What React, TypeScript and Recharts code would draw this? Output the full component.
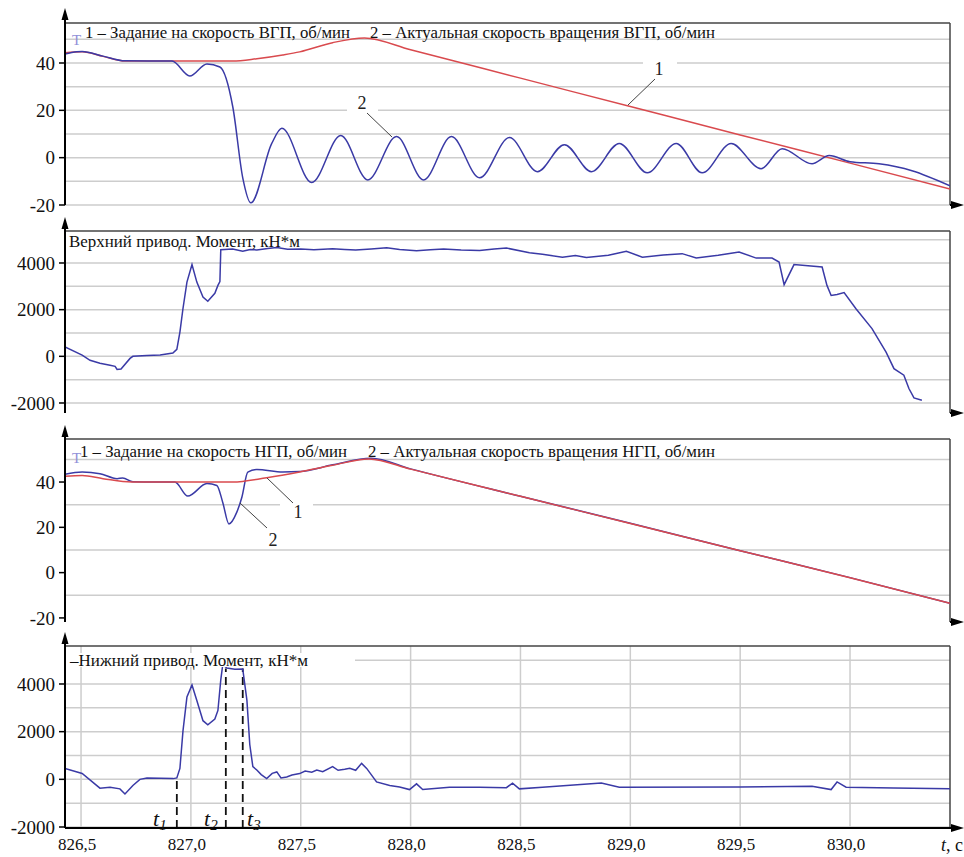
import React from "react";
import { LineChart, Line, XAxis, YAxis, CartesianGrid, ReferenceLine } from "recharts";

const RED = "#d94a4e";
const BLUE = "#3a3aa6";
const GRID = "#cdcdcd";
const FONT = '"Liberation Serif", "Times New Roman", "DejaVu Serif", serif';

const T_MIN = 826.427;
const T_MAX = 830.455;
const timeTicks = [826.5, 827, 827.5, 828, 828.5, 829, 829.5, 830];

const speedTicks = [-20, 0, 20, 40];
const speedGrid = [-20, -10, 0, 10, 20, 30, 40, 50];
const torqueTicks = [-2000, 0, 2000, 4000];
const torqueGrid = [-2000, -1000, 0, 1000, 2000, 3000, 4000, 5000];

// ВГП: задание (1) и актуальная скорость (2), об/мин
const upperSetT = [826.427, 826.505, 826.6, 826.7, 827.19, 827.3, 827.418, 827.495, 827.645, 827.79, 828.0, 828.5, 829.0, 829.5, 830.0, 830.455];
const upperSetV = [44.3, 44.7, 42.8, 40.8, 40.8, 41.8, 43.4, 44.7, 48.6, 50.6, 45.6, 33.6, 21.6, 9.6, -2.3, -13.2];
const upperActT = [
  826.427, 826.48, 826.505, 826.6, 826.7, 826.914, 826.995, 827.073, 827.132, 827.191, 827.236, 827.273,
  827.368, 827.414, 827.55, 827.682, 827.805, 827.936, 828.059, 828.186, 828.314, 828.45, 828.577, 828.7,
  828.823, 828.95, 829.077, 829.209, 829.327, 829.459, 829.595, 829.691, 829.827, 829.905, 830.0, 830.132,
  830.282, 830.455,
];
const upperActV = [
  43.8, 44.8, 44.9, 42.9, 40.9, 40.8, 34.5, 39.6, 38.3, 21.3, -8.5, -19.1,
  6, 12.4, -10.5, 9.4, -9.4, 8.9, -9.4, 8.9, -8.5, 8.5, -5.9, 5.5,
  -5.9, 6, -6.4, 6, -6.4, 6, -4.7, 3.8, -2.6, 0.9, -1.7, -2.6,
  -5.5, -11.9,
];

// Верхний привод, момент кН*м
const upperTorqueT = [
  826.427, 826.505, 826.541, 826.586, 826.632, 826.655, 826.664, 826.682, 826.723, 826.736, 826.8, 826.86,
  826.918, 826.936, 826.95, 826.964, 826.982, 827.005, 827.027, 827.055, 827.077, 827.109, 827.123, 827.132,
  827.136, 827.19, 827.236, 827.27, 827.3, 827.35, 827.391, 827.44, 827.5, 827.56, 827.645, 827.7,
  827.75, 827.82, 827.891, 827.95, 828.027, 828.09, 828.15, 828.23, 828.314, 828.38, 828.436, 828.541,
  828.6, 828.691, 828.75, 828.8, 828.9, 828.982, 829.055, 829.15, 829.236, 829.3, 829.4, 829.495,
  829.573, 829.645, 829.677, 829.7, 829.745, 829.873, 829.895, 829.914, 829.941, 829.973, 830.027, 830.1,
  830.164, 830.2, 830.245, 830.268, 830.291, 830.327,
];
const upperTorqueV = [
  400, 50, -170, -300, -380, -430, -560, -540, -90, 0, 30, 60,
  140, 300, 1040, 2050, 3180, 3930, 3180, 2540, 2360, 2700, 3040, 3200,
  4570, 4600, 4500, 4580, 4560, 4620, 4660, 4590, 4600, 4570, 4610, 4580,
  4560, 4600, 4650, 4580, 4520, 4570, 4600, 4560, 4540, 4600, 4640, 4440,
  4370, 4250, 4320, 4240, 4330, 4500, 4250, 4340, 4400, 4210, 4330, 4470,
  4210, 4210, 4040, 3070, 3930, 3830, 3040, 2610, 2650, 2730, 2040, 1190,
  180, -530, -810, -1380, -1780, -1880,
];

// НГП: задание (1) и актуальная скорость (2), об/мин
const lowerSetT = [826.427, 826.505, 826.6, 826.73, 827.19, 827.345, 827.495, 827.645, 827.81, 828.0, 828.5, 829.0, 829.5, 830.0, 830.455];
const lowerSetV = [42.5, 42.9, 41.5, 40.0, 40.0, 41.9, 44.4, 47.4, 50.2, 45.7, 33.7, 21.7, 9.7, -2.3, -13.5];
const lowerActT = [
  826.427, 826.505, 826.586, 826.664, 826.69, 826.736, 826.927, 826.986, 827.073, 827.118, 827.145, 827.173,
  827.209, 827.232, 827.259, 827.3, 827.418, 827.495, 827.645, 827.82, 828.0, 828.5, 829.0, 829.5, 830.0, 830.455,
];
const lowerActV = [
  43.4, 44.4, 43.7, 41.5, 41.8, 40.1, 40.0, 33.8, 39.3, 38.5, 31, 21.5,
  26.7, 33.3, 44.4, 45.5, 44.4, 44.6, 47.6, 50.5, 45.8, 33.7, 21.8, 9.7, -2.2, -13.5,
];

// Нижний привод, момент кН*м
const lowerTorqueT = [
  826.427, 826.505, 826.586, 826.632, 826.677, 826.7, 826.736, 826.768, 826.8, 826.92, 826.936, 826.95,
  826.964, 826.982, 827.005, 827.027, 827.055, 827.077, 827.109, 827.123, 827.136, 827.145, 827.164, 827.2,
  827.236, 827.255, 827.268, 827.282, 827.3, 827.32, 827.345, 827.37, 827.391, 827.41, 827.436, 827.46,
  827.495, 827.52, 827.55, 827.573, 827.6, 827.645, 827.67, 827.7, 827.723, 827.75, 827.777, 827.8,
  827.845, 827.905, 827.95, 827.995, 828.027, 828.055, 828.177, 828.314, 828.436, 828.464, 828.495, 828.6,
  828.868, 828.95, 829.5, 829.827, 829.914, 829.941, 829.982, 830.2, 830.455,
];
const lowerTorqueV = [
  457, 243, -371, -330, -400, -614, -257, 0, 57, 30, 60, 457,
  2030, 3460, 3960, 3310, 2460, 2290, 2530, 2890, 4170, 4810, 4670, 4620,
  4630, 3310, 1460, 530, 390, 200, 30, 250, 310, 60, 100, 180,
  240, 350, 300, 390, 320, 530, 380, 420, 460, 380, 670, 460,
  -110, -260, -320, -430, -190, -430, -330, -330, -350, -160, -400, -330,
  -150, -330, -320, -290, -430, -110, -330, -360, -400,
];

const zip = (ts: number[], vs: number[]) => ts.map((t, i) => ({ t, v: vs[i] }));

const fmtTime = (v: number) => v.toFixed(1).replace(".", ",");

// eslint-disable-next-line @typescript-eslint/no-explicit-any
function YTick({ x, y, payload }: any) {
  return (
    <text x={x} y={y} dy="0.35em" textAnchor="end" fontSize={19} fill="#111" style={{ fontFamily: FONT }}>
      {payload.value}
    </text>
  );
}

// eslint-disable-next-line @typescript-eslint/no-explicit-any
function XTick({ x, y, payload }: any) {
  return (
    <text x={x - 4} y={y} dy="0.8em" textAnchor="middle" fontSize={17} fill="#111" style={{ fontFamily: FONT }}>
      {fmtTime(payload.value)}
    </text>
  );
}

type Series = { data: { t: number; v: number }[]; color: string; curve: "monotone" | "linear" };

function Panel({ top, height, mTop, mBottom, yDomain, yTicks, yGrid, series, showX, children }: {
  top: number; height: number; mTop: number; mBottom: number; yDomain: [number, number];
  yTicks: number[]; yGrid: number[]; series: Series[]; showX?: boolean; children?: React.ReactNode;
}) {
  return (
    <div style={{ position: "absolute", left: 0, top }}>
      <LineChart width={964} height={height} margin={{ top: mTop, right: 14, bottom: mBottom, left: 10 }}>
        <CartesianGrid stroke={GRID} strokeWidth={1.5} horizontalValues={yGrid} verticalValues={timeTicks} />
        <XAxis type="number" dataKey="t" domain={[T_MIN, T_MAX]} allowDataOverflow ticks={timeTicks}
          height={showX ? 29 : 0} tick={showX ? <XTick /> : false}
          tickLine={false} axisLine={{ stroke: "#000", strokeWidth: 2 }} />
        <YAxis type="number" domain={yDomain} allowDataOverflow ticks={yTicks} width={55}
          tick={<YTick />} tickSize={6} tickMargin={4}
          tickLine={{ stroke: "#000", strokeWidth: 1.5 }} axisLine={{ stroke: "#000", strokeWidth: 2 }} />
        <ReferenceLine y={yDomain[1]} stroke="#444" strokeWidth={1.5} />
        <ReferenceLine x={T_MAX} stroke="#444" strokeWidth={1.5} />
        {children}
        {series.map((s, i) => (
          <Line key={i} data={s.data} dataKey="v" type={s.curve} stroke={s.color} strokeWidth={1.5}
            dot={false} activeDot={false} isAnimationActive={false} />
        ))}
      </LineChart>
    </div>
  );
}

function UpArrow({ x, tip, base }: { x: number; tip: number; base: number }) {
  return (
    <g>
      <line x1={x} y1={tip + 6} x2={x} y2={base} stroke="#000" strokeWidth={2} />
      <path d={`M${x} ${tip} L${x - 3.5} ${tip + 12} L${x + 3.5} ${tip + 12} Z`} fill="#000" />
    </g>
  );
}

function RightArrow({ y }: { y: number }) {
  return (
    <g>
      <line x1={950} y1={y} x2={958} y2={y} stroke="#000" strokeWidth={2} />
      <path d={`M964 ${y} L951 ${y - 4} L951 ${y + 4} Z`} fill="#000" />
    </g>
  );
}

function Callout({ label, lx, ly, x1, y1, x2, y2, bx, bw, by }: {
  label: string; lx: number; ly: number; x1: number; y1: number; x2: number; y2: number; bx: number; bw: number; by: number;
}) {
  return (
    <g>
      <rect x={bx} y={by} width={bw} height={10} fill="#fff" />
      <text x={lx} y={ly} fontSize={18} style={{ fontFamily: FONT }} textAnchor="middle" fill="#222">{label}</text>
      <line x1={x1} y1={y1} x2={x2} y2={y2} stroke="#444" strokeWidth={1} />
    </g>
  );
}

function TMark({ x, n }: { x: number; n: string }) {
  return (
    <text x={x} y={826} fontSize={22} style={{ fontFamily: FONT, fontStyle: "italic" }} fill="#111">
      t<tspan fontSize={15} dy={4}>{n}</tspan>
    </text>
  );
}

export default function App() {
  const txt = { fontSize: 17, style: { fontFamily: FONT }, fill: "#111" };
  return (
    <div style={{ position: "absolute", left: 0, top: 0, width: 964, height: 857, background: "#fff", fontFamily: FONT }}>
      <Panel top={0} height={215} mTop={23} mBottom={10} yDomain={[-20, 56.9]} yTicks={speedTicks} yGrid={speedGrid}
        series={[
          { data: zip(upperSetT, upperSetV), color: RED, curve: "monotone" },
          { data: zip(upperActT, upperActV), color: BLUE, curve: "monotone" },
        ]} />
      <Panel top={215} height={210} mTop={16} mBottom={12} yDomain={[-2429, 5371]} yTicks={torqueTicks} yGrid={torqueGrid}
        series={[{ data: zip(upperTorqueT, upperTorqueV), color: BLUE, curve: "linear" }]} />
      <Panel top={425} height={210} mTop={14} mBottom={13} yDomain={[-21.8, 59]} yTicks={speedTicks} yGrid={speedGrid}
        series={[
          { data: zip(lowerActT, lowerActV), color: BLUE, curve: "monotone" },
          { data: zip(lowerSetT, lowerSetV), color: RED, curve: "monotone" },
        ]} />
      <Panel top={635} height={222} mTop={11} mBottom={0} yDomain={[-2042, 5594]} yTicks={torqueTicks} yGrid={torqueGrid}
        showX series={[{ data: zip(lowerTorqueT, lowerTorqueV), color: BLUE, curve: "linear" }]}>
        <ReferenceLine segment={[{ x: 826.936, y: -2042 }, { x: 826.936, y: 0 }]} stroke="#111" strokeWidth={1.8} strokeDasharray="8 5" />
        <ReferenceLine segment={[{ x: 827.159, y: -2042 }, { x: 827.159, y: 4650 }]} stroke="#111" strokeWidth={1.8} strokeDasharray="8 5" />
        <ReferenceLine segment={[{ x: 827.236, y: -2042 }, { x: 827.236, y: 4650 }]} stroke="#111" strokeWidth={1.8} strokeDasharray="8 5" />
      </Panel>

      <svg width={964} height={857} style={{ position: "absolute", left: 0, top: 0, pointerEvents: "none" }}>
        <UpArrow x={65} tip={8} base={23} />
        <UpArrow x={65} tip={217} base={231} />
        <UpArrow x={65} tip={425} base={439} />
        <UpArrow x={65} tip={632} base={646} />
        <RightArrow y={205} />
        <RightArrow y={413} />
        <RightArrow y={622} />
        <RightArrow y={828} />

        <text x={72} y={45} fontSize={15} style={{ fontFamily: FONT }} fill="#9090d8">T</text>
        <text x={85} y={38} textLength={265} lengthAdjust="spacingAndGlyphs" {...txt}>1 – Задание на скорость ВГП, об/мин</text>
        <text x={370} y={38} textLength={345} lengthAdjust="spacingAndGlyphs" {...txt}>2 – Актуальная скорость вращения ВГП, об/мин</text>
        <Callout label="2" lx={362} ly={109} x1={367} y1={113} x2={392} y2={137} bx={347} bw={31} by={105} />
        <Callout label="1" lx={659} ly={75} x1={655} y1={79} x2={628} y2={105} bx={643} bw={34} by={58} />

        <rect x={66} y={233} width={234} height={14} fill="#fff" />
        <text x={69} y={247} textLength={231} lengthAdjust="spacingAndGlyphs" {...txt}>Верхний привод. Момент, кН*м</text>

        <text x={72} y={463} fontSize={15} style={{ fontFamily: FONT }} fill="#9090d8">T</text>
        <text x={80} y={457} textLength={267} lengthAdjust="spacingAndGlyphs" {...txt}>1 – Задание на скорость НГП, об/мин</text>
        <text x={368} y={457} textLength={347} lengthAdjust="spacingAndGlyphs" {...txt}>2 – Актуальная скорость вращения НГП, об/мин</text>
        <Callout label="1" lx={298} ly={518} x1={267} y1={478} x2={293} y2={503} bx={280} bw={33} by={499} />
        <Callout label="2" lx={273} ly={546} x1={240} y1={503} x2={267} y2={528} bx={259} bw={31} by={522} />

        <rect x={66} y={653} width={289} height={14} fill="#fff" />
        <text x={70} y={666} textLength={238} lengthAdjust="spacingAndGlyphs" {...txt}>–Нижний привод. Момент, кН*м</text>

        <TMark x={153} n="1" />
        <TMark x={204} n="2" />
        <TMark x={247} n="3" />

        <text x={941} y={851} fontSize={18} style={{ fontFamily: FONT }} fill="#111">
          <tspan style={{ fontStyle: "italic" }}>t</tspan>, c
        </text>
      </svg>
    </div>
  );
}
